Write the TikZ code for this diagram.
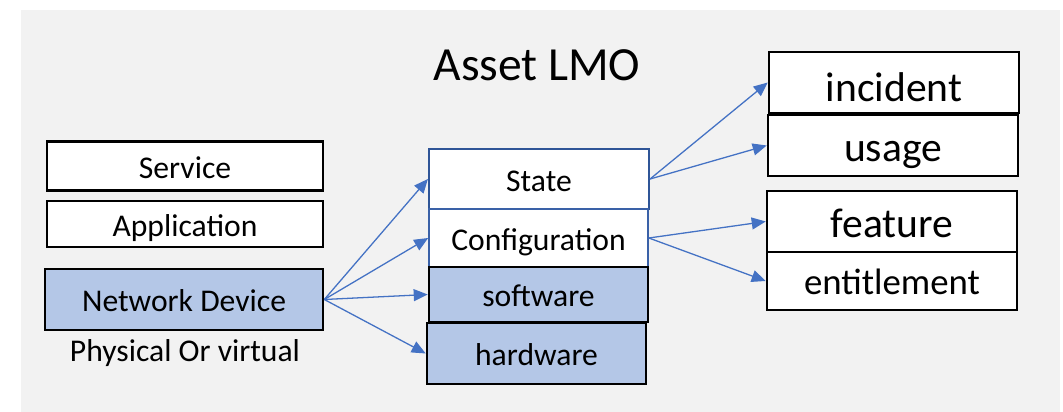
\documentclass[tikz,border=0pt]{standalone}
\usepackage{fontspec}
\setmainfont{Carlito}
\usetikzlibrary{arrows.meta}

\definecolor{fundo}{HTML}{F2F2F2}
\definecolor{azulclaro}{HTML}{B4C7E7}
\definecolor{azulseta}{HTML}{4472C4}
\definecolor{azulborda}{HTML}{2F5597}

\begin{document}
\begin{tikzpicture}[
        >={Triangle[length=4.2mm,width=3.6mm]},
        caixa/.style={rectangle, draw=black, line width=2.2pt, fill=white, inner sep=0pt, text height=20.5pt, text depth=0pt, font=\fontsize{27}{32}\selectfont},
        preenchida/.style={caixa, fill=azulclaro},
        estado/.style={caixa, draw=azulborda, line width=1.8pt},
        grande/.style={caixa, minimum width=7.5cm, minimum height=1.83cm, text height=26.5pt, font=\fontsize{35.5}{42}\selectfont},
        seta/.style={->, draw=azulseta, line width=1.1pt}
    ]

        \useasboundingbox (0,0) rectangle (31.89,12.36);
        \fill[fundo] (0.63,0) rectangle (31.8,12.06);

        \node[font=\fontsize{40.6}{48}\selectfont] (titulo) at (16.11,10.41) {Asset LMO};

        % ==================================================
        % ESQUERDA
        % ==================================================

        \node[caixa, minimum width=8.28cm, minimum height=1.47cm] (service) at (5.55,7.38) {Service};
        \node[caixa, minimum width=8.28cm, minimum height=1.38cm] (application) at (5.55,5.64) {Application};
        \node[preenchida, minimum width=8.34cm, minimum height=1.83cm] (device) at (5.52,3.375) {Network Device};
        \node[font=\fontsize{27}{32}\selectfont] (fisico) at (5.55,1.77) {Physical Or virtual};

        % ==================================================
        % MEIO
        % ==================================================

        \node[estado, minimum width=6.6cm, minimum height=1.8cm] (state) at (16.17,6.99) {State};
        \node[estado, draw=azulseta!85!black, line width=1.4pt, minimum width=6.57cm, minimum height=1.74cm] (config) at (16.155,5.22) {Configuration};
        \node[preenchida, minimum width=6.57cm, minimum height=1.65cm] (software) at (16.155,3.525) {software};
        \node[preenchida, minimum width=6.57cm, minimum height=1.83cm] (hardware) at (16.095,1.755) {hardware};

        % ==================================================
        % DIREITA
        % ==================================================

        \node[grande, text height=31.6pt] (incident) at (26.82,9.885) {incident};
        \node[grande] (usage) at (26.79,7.995) {usage};
        \node[grande] (feature) at (26.76,5.715) {feature};
        \node[grande, minimum height=1.74cm, text height=23pt, font=\fontsize{31.4}{38}\selectfont] (entitlement) at (26.76,3.93) {entitlement};

        % Setas
        \draw[seta] (device.east) -- (state.west);
        \draw[seta] (device.east) -- (config.west);
        \draw[seta] (device.east) -- (software.west);
        \draw[seta] (device.east) -- (hardware.west);

        \draw[seta] (state.east) -- (incident.west);
        \draw[seta] (state.east) -- (usage.west);
        \draw[seta] (config.east) -- (feature.west);
        \draw[seta] (config.east) -- (entitlement.west);

    \end{tikzpicture}
\end{document}
